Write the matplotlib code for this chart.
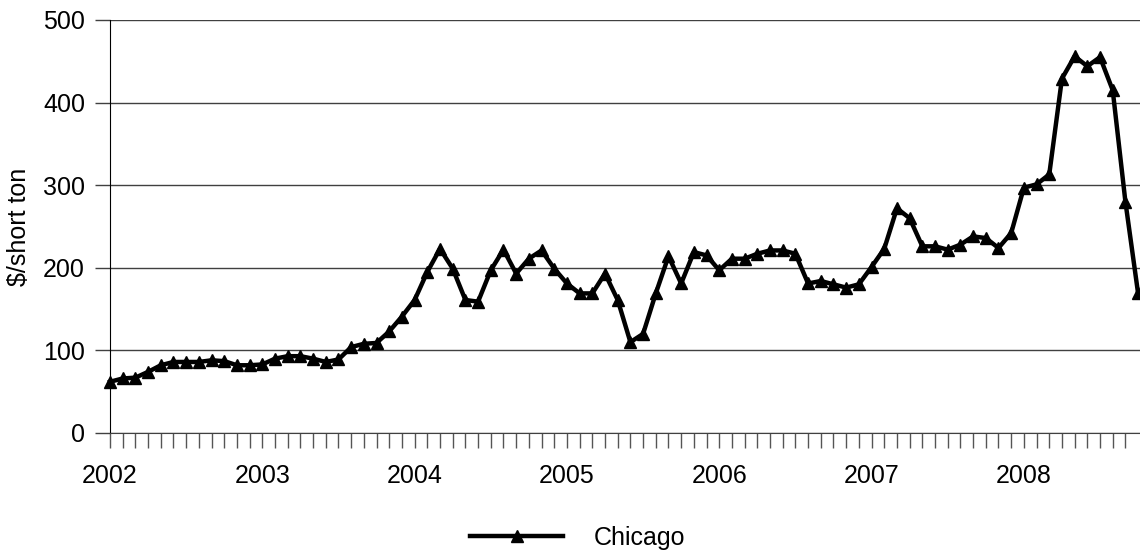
import matplotlib.pyplot as plt

plt.rcParams['font.family'] = ['Liberation Sans', 'DejaVu Sans']

# monthly prices, Jan 2002 - Oct 2008
years = ["2002", "2003", "2004", "2005", "2006", "2007", "2008"]
chicago = [
    62, 66, 67, 74, 82, 86, 86, 86, 88, 87, 82, 82,
    83, 90, 93, 93, 90, 86, 89, 104, 108, 109, 123, 141,
    161, 195, 223, 199, 161, 159, 197, 222, 193, 211, 221, 199,
    181, 169, 169, 193, 161, 110, 120, 169, 214, 181, 219, 215,
    197, 211, 211, 217, 221, 221, 217, 181, 184, 180, 176, 180,
    201, 223, 272, 260, 226, 226, 222, 228, 238, 236, 224, 242,
    297, 301, 313, 429, 456, 444, 455, 415, 280, 169,
]

fig = plt.figure(figsize=(11.4, 5.52), dpi=100)
ax = fig.add_axes([0.0965, 0.2156, 0.9035, 0.7482])

x = list(range(len(chicago)))
ax.plot(x, chicago, color="black", lw=3.2, marker="^", markersize=9,
        clip_on=False, label="Chicago", zorder=3)

ax.set_xlim(0, 81.15)
ax.set_ylim(0, 500)
ax.set_yticks(range(0, 501, 100))
ax.yaxis.grid(True, color="#404040", lw=1)
ax.set_axisbelow(True)

labels = [""] * len(chicago)
for i, y in enumerate(years):
    labels[i * 12] = y
ax.set_xticks(x[:-1])
ax.set_xticklabels(labels[:-1])

ax.tick_params(axis="x", direction="out", length=11, width=1, color="#555555",
               labelsize=18, pad=11)
ax.tick_params(axis="y", direction="out", length=11, width=1, color="#404040",
               labelsize=18, pad=7)

for s in ["top", "right"]:
    ax.spines[s].set_visible(False)
ax.spines["left"].set_color("black")
ax.spines["bottom"].set_color("#404040")

ax.set_ylabel("$/short ton", fontsize=18, labelpad=9)

fig.legend(loc="center", bbox_to_anchor=(578 / 1140, 1 - 538 / 552), frameon=False,
           fontsize=18, handlelength=3.7, handletextpad=1.25)

fig.savefig("out.png", dpi=100)
